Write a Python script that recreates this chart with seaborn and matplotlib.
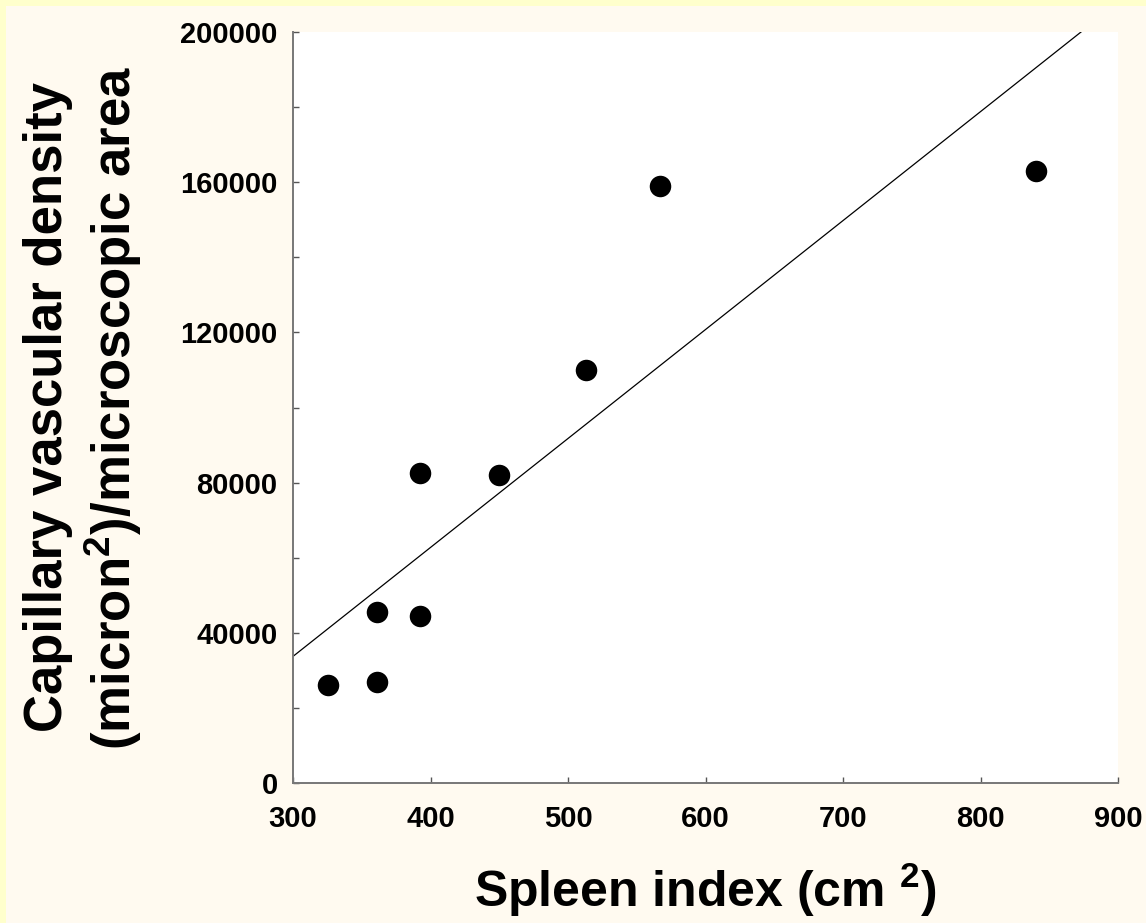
import matplotlib
matplotlib.use("Agg")
import matplotlib.pyplot as plt
import matplotlib.patches as mpatches
from matplotlib.ticker import MultipleLocator
import pandas as pd
import seaborn as sns

# values
spleen_index = [325.5, 361, 361, 392.5, 392.5, 450, 513.4, 566.6, 840.4]
vascular_density = [26000, 27000, 45500, 44500, 82500, 82000, 110000, 159000, 163000]
x_ticks = [300, 400, 500, 600, 700, 800, 900]
y_ticks = [0, 40000, 80000, 120000, 160000, 200000]

df = pd.DataFrame({"spleen": spleen_index, "density": vascular_density})

sns.set_theme(style="ticks")
plt.rcParams["font.family"] = ["Liberation Sans", "DejaVu Sans"]
plt.rcParams["font.weight"] = "bold"
plt.rcParams["text.color"] = "black"
plt.rcParams["axes.labelcolor"] = "black"
plt.rcParams["xtick.labelcolor"] = "black"
plt.rcParams["ytick.labelcolor"] = "black"
plt.rcParams["mathtext.fontset"] = "custom"
plt.rcParams["mathtext.rm"] = "Liberation Sans:bold"
plt.rcParams["mathtext.bf"] = "Liberation Sans:bold"

fig = plt.figure(figsize=(11.46, 9.23), dpi=100)
fig.patch.set_facecolor("#FFFFCC")
# cream panel, leaving a thin yellow strip on the top and left
fig.patches.append(mpatches.Rectangle((6 / 1146, 0), 1, 1 - 6 / 923,
                                      transform=fig.transFigure,
                                      facecolor="#FFFAF0", edgecolor="none", zorder=-5))

ax = fig.add_axes([293 / 1146, 1 - 783 / 923, 825 / 1146, 751 / 923])
ax.set_facecolor("white")
ax.set_xlim(300, 900)
ax.set_ylim(0, 200000)

sns.regplot(data=df, x="spleen", y="density", ax=ax, ci=None, truncate=False,
            scatter_kws={"s": 240, "color": "black", "alpha": 1, "linewidths": 0},
            line_kws={"color": "black", "lw": 0.9})

ax.set_xticks(x_ticks)
ax.set_yticks(y_ticks)
ax.yaxis.set_minor_locator(MultipleLocator(20000))
ax.set_xticklabels([str(v) for v in x_ticks])
ax.set_yticklabels([str(v) for v in y_ticks])

for side in ["top", "right"]:
    ax.spines[side].set_visible(False)
for side in ["left", "bottom"]:
    ax.spines[side].set_color("#777777")
    ax.spines[side].set_linewidth(1.4)

ax.tick_params(axis="both", which="both", direction="in", length=4, width=1,
               color="#555555")
ax.tick_params(axis="x", labelsize=21, pad=16)
ax.tick_params(axis="y", labelsize=21, pad=11)
for lab in ax.get_xticklabels() + ax.get_yticklabels():
    lab.set_fontweight("bold")

ax.set_xlabel(r"Spleen index (cm $^{\mathbf{2}}$)", fontsize=36, fontweight="bold",
              labelpad=20)
ax.set_ylabel("Capillary vascular density\n" + r"(micron$^{\mathbf{2}}$)/microscopic area",
              fontsize=38, fontweight="bold", labelpad=26, linespacing=1.2)

fig.savefig("out.png", dpi=100)
